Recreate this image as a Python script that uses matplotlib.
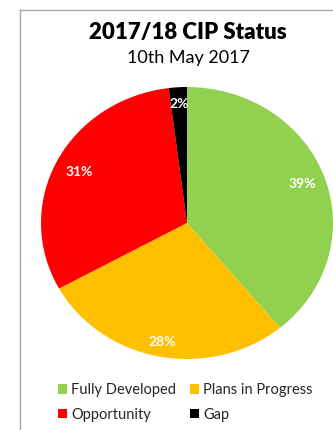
import matplotlib
matplotlib.use("Agg")
import matplotlib.pyplot as plt
from matplotlib.patches import Patch
from matplotlib.lines import Line2D
import numpy as np

plt.rcParams['font.family'] = ['Lato', 'DejaVu Sans']

categories = ["Fully Developed", "Plans in Progress", "Opportunity", "Gap"]
values = [39, 28, 31, 2]
colors = ["#92D050", "#FFC000", "#FF0000", "#000000"]
label_dist = [0.84, 0.89, 0.83, 0.88]

W, H = 333, 430
fig = plt.figure(figsize=(W / 100, H / 100), dpi=100)
fig.patch.set_facecolor("white")

def fx(px):
    return px / W

def fy(py):
    return 1 - py / H

# chart border (top and left visible)
fig.add_artist(Line2D([fx(20), fx(20)], [fy(9.5), fy(440)], color="#A6A6A6", lw=1.0))
fig.add_artist(Line2D([fx(20), fx(340)], [fy(9.5), fy(9.5)], color="#A6A6A6", lw=1.0))

# pie axes (slightly elliptical as in reference)
cx, cy, rx, ry = 187, 223, 146, 136
ax = fig.add_axes([fx(cx - rx), fy(cy + ry), 2 * rx / W, 2 * ry / H])
wedges, texts = ax.pie(values, colors=colors, startangle=90, counterclock=False,
                       radius=1.0, wedgeprops=dict(linewidth=0))
ax.set_aspect("auto")
ax.set_xlim(-1, 1)
ax.set_ylim(-1, 1)
ax.axis("off")

for w, v, d in zip(wedges, values, label_dist):
    ang = np.deg2rad((w.theta1 + w.theta2) / 2)
    ax.text(d * np.cos(ang), d * np.sin(ang), f"{v}%", ha="center", va="center",
            color="white", fontsize=10, fontweight="bold")

fig.text(fx(188), fy(33), "2017/18 CIP Status", ha="center", va="center",
         fontsize=16, fontweight="heavy", color="black")
fig.text(fx(188), fy(58), "10th May 2017", ha="center", va="center",
         fontsize=13, color="black")

handles = [Patch(facecolor=c, edgecolor="none") for c in colors]
order = [0, 2, 1, 3]
leg = fig.legend([handles[i] for i in order], [categories[i] for i in order],
                 ncol=2, loc="upper left", bbox_to_anchor=(fx(48), fy(373)),
                 frameon=False, fontsize=10.5, handlelength=0.6, handleheight=0.6,
                 handletextpad=0.3, columnspacing=0.95, labelspacing=0.72,
                 borderpad=0.2)
for t in leg.get_texts():
    t.set_color("#262626")

fig.savefig("out.png", dpi=100, facecolor="white")
